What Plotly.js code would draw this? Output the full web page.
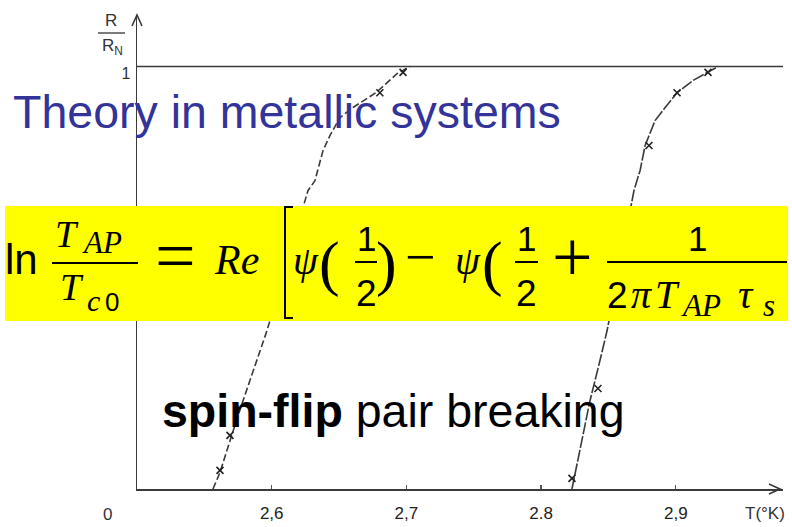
<!DOCTYPE html>
<html>
<head>
<meta charset="utf-8">
<script src="https://cdn.plot.ly/plotly-3.0.1.min.js"></script>
<style>
  html, body { margin: 0; padding: 0; background: #ffffff; }
  #chart { width: 792px; height: 527px; }
</style>
</head>
<body>
<div id="chart"></div>
<script>
// Resistive transition R/R_N versus temperature for two films
const leftT  = [2.5564, 2.5616, 2.5705, 2.5787, 2.5965, 2.6269, 2.6321, 2.6381, 2.6433, 2.6507, 2.6604, 2.6774, 2.6930, 2.7027];
const leftR  = [0, 0.039, 0.129, 0.209, 0.375, 0.706, 0.730, 0.801, 0.837, 0.879, 0.903, 0.938, 0.983, 1.0];
const rightT = [2.8229, 2.8304, 2.8363, 2.8437, 2.8490, 2.8690, 2.8735, 2.8772, 2.8846, 2.8921, 2.9010, 2.9128, 2.9240, 2.9314];
const rightR = [0, 0.115, 0.209, 0.304, 0.375, 0.707, 0.754, 0.813, 0.872, 0.903, 0.938, 0.967, 0.986, 1.0];

// measured points (crosses)
const leftPtsT  = [2.5616, 2.5690, 2.6803, 2.6975];
const leftPtsR  = [0.044, 0.127, 0.938, 0.986];
const rightPtsT = [2.8229, 2.8422, 2.8801, 2.9009, 2.9239];
const rightPtsR = [0.025, 0.238, 0.813, 0.938, 0.986];

// normal-state level
const normalT = [2.5, 2.9796];
const normalR = [1, 1];

const tickVals = [2.6, 2.7, 2.8, 2.9];
const tickText = ['2,6', '2,7', '2.8', '2,9'];

// plot frame in page pixels
const L = 137, TOP = 15, W = 646, H = 474;
const XPX = 1347, YPX = 422.5;          // pixels per unit on each axis
const px = p => (p - L) / W;
const py = p => (TOP + H - p) / H;

const SANS = 'Liberation Sans, Arial, sans-serif';
const SERIF = 'Liberation Serif, Times New Roman, serif';
const INK = '#3a3a3a';

function lineTrace(x, y, dash) {
  return { x, y, type: 'scatter', mode: 'lines', hoverinfo: 'skip',
           line: { color: INK, width: 1.6, dash: dash } };
}
function markTrace(x, y) {
  return { x, y, type: 'scatter', mode: 'markers', hoverinfo: 'skip',
           marker: { symbol: 'x-thin-open', size: 7, color: '#222', line: { color: '#222', width: 1.6 } } };
}

const traces = [
  lineTrace(normalT, normalR, 'solid'),
  lineTrace(leftT, leftR, '7px,3px'),
  lineTrace(rightT, rightR, '12px,2px'),
  markTrace(leftPtsT, leftPtsR),
  markTrace(rightPtsT, rightPtsR)
];

// text placed by center x and baseline (or visual center) in page pixels
function txt(text, cx, cy, size, family, color, xanchor) {
  return { text, x: px(cx), y: py(cy), xref: 'paper', yref: 'paper',
           xanchor: xanchor || 'center', yanchor: 'middle', showarrow: false,
           font: { family, size, color: color || '#000' } };
}
const onBase = (text, cx, base, size, family, color, xa) =>
  txt(text, cx, base - 0.34 * size, size, family, color, xa);
// operators / delimiters positioned by the glyph's visual center
const onAxis = (text, cx, cyGlyph, size) =>
  txt(text, cx, cyGlyph - 0.085 * size, size, SERIF);

const annotations = [
  // axis captions
  txt('0', 107, 514, 17, SANS, '#333'),
  txt('T(°K)', 765, 513, 17, SANS, '#333'),
  txt('R', 111, 21, 17, SANS, '#333'),
  txt('R<sub>N</sub>', 112, 47, 17, SANS, '#333'),

  // slide text
  onBase('Theory in metallic systems', 11, 128, 46.5, SANS, '#333399', 'left'),
  onBase('<b>spin-flip</b> pair breaking', 160, 427, 46.5, SANS, '#000', 'left'),

  // formula: ln T_AP / T_c0 = Re[ ψ(1/2) − ψ(1/2 + 1/(2π T_AP τ_s)
  onBase('ln', 21.5, 274, 42, SANS),
  onBase('<i>T</i>', 67, 247, 38, SERIF),
  onBase('<i>AP</i>', 102, 253, 31, SERIF),
  onBase('<i>T</i>', 72, 300, 38, SERIF),
  onBase('<i>c</i>', 93, 311, 30, SERIF),
  onBase('0', 112, 311, 26, SANS),
  onAxis('=', 175, 262, 72),
  onBase('<i>Re</i>', 236, 274, 42, SERIF),
  onBase('<i>ψ</i>', 306, 274, 40, SERIF),
  onAxis('(', 329, 268.5, 62),
  onBase('1', 366, 250, 35, SANS),
  onBase('2', 366, 306, 37, SANS),
  onAxis(')', 386, 268.5, 62),
  onAxis('−', 420, 262, 54),
  onBase('<i>ψ</i>', 468, 274, 40, SERIF),
  onAxis('(', 492, 268.5, 62),
  onBase('1', 526, 250, 35, SANS),
  onBase('2', 526, 306, 37, SANS),
  onAxis('+', 572, 263, 72),
  onBase('1', 697, 250, 35, SANS),
  onBase('2', 617, 308, 37, SANS),
  onBase('<i>π</i>', 641, 308, 40, SERIF),
  onBase('<i>T</i>', 667, 308, 40, SERIF),
  onBase('<i>AP</i>', 701, 316, 31, SERIF),
  onBase('<i>τ</i>', 746, 308, 40, SERIF),
  onBase('<i>s</i>', 769, 316, 31, SERIF)
];

function hline(x0, x1, y, w) {
  return { type: 'line', xref: 'paper', yref: 'paper', layer: 'above',
           x0: px(x0), x1: px(x1), y0: py(y), y1: py(y),
           line: { color: '#000', width: w || 2 } };
}
// open arrowhead with its tip at page pixel (tx, ty), pointing along (ux, uy)
function chevron(tx, ty, ux, uy) {
  const back = 11, half = 5;
  const bx = -ux * back, by = -uy * back;
  const nx = -uy * half, ny = ux * half;
  return { type: 'path', xref: 'paper', yref: 'paper', layer: 'above',
           path: `M${px(tx + bx + nx)},${py(ty + by + ny)} L${px(tx)},${py(ty)} L${px(tx + bx - nx)},${py(ty + by - ny)}`,
           line: { color: INK, width: 1.6 } };
}

const shapes = [
  chevron(780, TOP + H, 1, 0),
  chevron(L, TOP, 0, -1),
  // formula panel
  { type: 'rect', xref: 'paper', yref: 'paper', layer: 'above',
    x0: px(5), x1: px(788), y0: py(321), y1: py(206),
    fillcolor: '#ffff00', line: { width: 0 } },
  // R / R_N bar
  { type: 'line', xref: 'paper', yref: 'paper', layer: 'above',
    x0: px(98), x1: px(125), y0: py(33), y1: py(33), line: { color: '#333', width: 1.3 } },
  // fraction bars
  hline(52, 138, 263),
  hline(355, 377, 262),
  hline(515, 538, 262),
  hline(607, 787, 262),
  // opening bracket
  { type: 'path', xref: 'paper', yref: 'paper', layer: 'above',
    path: `M${px(293)},${py(207)} L${px(285)},${py(207)} L${px(285)},${py(318)} L${px(293)},${py(318)}`,
    line: { color: '#000', width: 2 } }
];

const layout = {
  width: 792, height: 527,
  margin: { l: L, r: 792 - L - W, t: TOP, b: 527 - TOP - H },
  paper_bgcolor: '#ffffff', plot_bgcolor: '#ffffff',
  showlegend: false,
  xaxis: {
    range: [2.5, 2.5 + W / XPX], fixedrange: true,
    showgrid: false, zeroline: false,
    showline: true, linecolor: INK, linewidth: 1.5,
    ticks: 'inside', ticklen: 4, tickwidth: 1.3, tickcolor: '#555',
    tickvals: tickVals, ticktext: tickText, ticklabelstandoff: 8,
    tickfont: { family: SANS, size: 17, color: '#222' }
  },
  yaxis: {
    range: [0, H / YPX], fixedrange: true,
    showgrid: false, zeroline: false,
    showline: true, linecolor: INK, linewidth: 1.5,
    ticks: '', tickvals: [1], ticktext: ['1'],
    ticklabelstandoff: 2, ticklabelshift: 7,
    tickfont: { family: SANS, size: 16, color: '#333' }
  },
  annotations, shapes
};

Plotly.newPlot('chart', traces, layout, { staticPlot: true, displayModeBar: false });
</script>
</body>
</html>
